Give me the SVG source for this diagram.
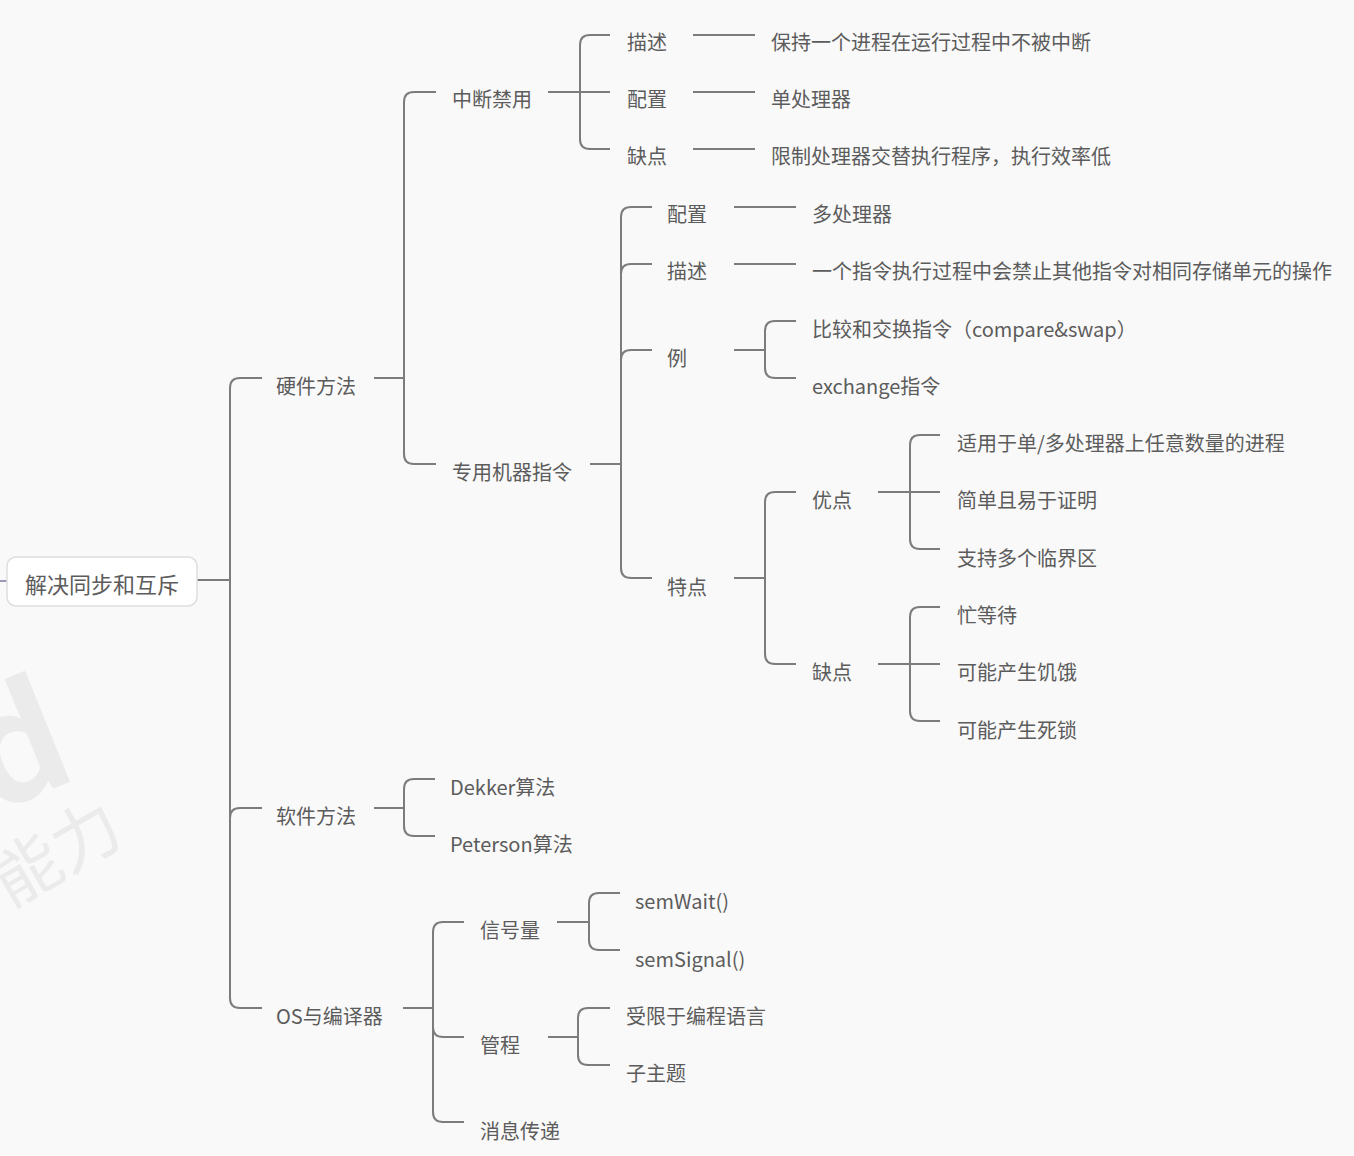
<svg xmlns="http://www.w3.org/2000/svg" width="1354" height="1156" viewBox="0 0 1354 1156">
<style>
.bg{fill:#f9f9f9}
.t{font-family:"Noto Sans CJK SC","Noto Sans",sans-serif;font-size:20px;fill:#5c5c5c;dominant-baseline:central}
.root{font-size:22px;text-anchor:middle}
.c path{fill:none;stroke:#7c7c7c;stroke-width:2}
.wm{font-family:"Noto Sans CJK SC","Noto Sans",sans-serif;fill:#ebebeb}
</style>
<rect class="bg" x="0" y="0" width="1354" height="1156"/>
<g id="watermark">
<text class="wm" x="-26" y="795" font-size="150" font-weight="bold" transform="rotate(-22 30 760)">d</text>
<text class="wm" x="-14" y="880" font-size="68" transform="rotate(-30 50 850)">能力</text>
</g>
<g class="c" id="connectors">
<path d="M0 581 L7 581" style="stroke:#9a9ab8"/>
<path d="M197 580 L230 580"/>
<path d="M230 580 L230 388 Q230 378 240 378 L262 378"/>
<path d="M230 580 L230 818 Q230 808 240 808 L262 808"/>
<path d="M230 580 L230 998 Q230 1008 240 1008 L262 1008"/>
<path d="M374 378 L404 378"/>
<path d="M404 378 L404 102 Q404 92 414 92 L436 92"/>
<path d="M404 378 L404 454 Q404 464 414 464 L436 464"/>
<path d="M548 92 L580 92"/>
<path d="M580 92 L580 45 Q580 35 590 35 L610 35"/>
<path d="M580 92 L610 92"/>
<path d="M580 92 L580 139 Q580 149 590 149 L610 149"/>
<path d="M693 35 L755 35"/>
<path d="M693 92 L755 92"/>
<path d="M693 149 L755 149"/>
<path d="M590 464 L621 464"/>
<path d="M621 464 L621 217 Q621 207 631 207 L652 207"/>
<path d="M621 274 Q621 264 631 264 L652 264"/>
<path d="M621 360 Q621 350 631 350 L652 350"/>
<path d="M621 464 L621 568 Q621 578 631 578 L652 578"/>
<path d="M734 207 L796 207"/>
<path d="M734 264 L796 264"/>
<path d="M734 350 L765 350"/>
<path d="M765 350 L765 331 Q765 321 775 321 L796 321"/>
<path d="M765 350 L765 368 Q765 378 775 378 L796 378"/>
<path d="M734 578 L765 578"/>
<path d="M765 578 L765 502 Q765 492 775 492 L796 492"/>
<path d="M765 578 L765 654 Q765 664 775 664 L796 664"/>
<path d="M878 492 L940 492"/>
<path d="M910 492 L910 445 Q910 435 920 435 L940 435"/>
<path d="M910 492 L910 539 Q910 549 920 549 L940 549"/>
<path d="M878 664 L940 664"/>
<path d="M910 664 L910 617 Q910 607 920 607 L940 607"/>
<path d="M910 664 L910 711 Q910 721 920 721 L940 721"/>
<path d="M374 808 L404 808"/>
<path d="M404 808 L404 789 Q404 779 414 779 L435 779"/>
<path d="M404 808 L404 826 Q404 836 414 836 L435 836"/>
<path d="M403 1008 L433 1008"/>
<path d="M433 1008 L433 932 Q433 922 443 922 L464 922"/>
<path d="M433 1027 Q433 1037 443 1037 L464 1037"/>
<path d="M433 1008 L433 1112 Q433 1122 443 1122 L464 1122"/>
<path d="M557 922 L589 922"/>
<path d="M589 922 L589 903 Q589 893 599 893 L620 893"/>
<path d="M589 922 L589 940 Q589 950 599 950 L620 950"/>
<path d="M548 1037 L578 1037"/>
<path d="M578 1037 L578 1018 Q578 1008 588 1008 L610 1008"/>
<path d="M578 1037 L578 1055 Q578 1065 588 1065 L610 1065"/>
</g>
<g id="n-root"><rect x="7" y="557" width="190" height="49" rx="9" fill="#ffffff" stroke="#dedede" stroke-width="1.5"/><text class="t root" x="102" y="583">解决同步和互斥</text></g>
<g id="n-hw"><text class="t" x="276" y="385">硬件方法</text></g>
<g id="n-sw"><text class="t" x="276" y="815">软件方法</text></g>
<g id="n-os"><text class="t" x="276" y="1015">OS与编译器</text></g>
<g id="n-int"><text class="t" x="452" y="98">中断禁用</text></g>
<g id="n-int-desc"><text class="t" x="627" y="41">描述</text></g>
<g id="n-int-cfg"><text class="t" x="627" y="98">配置</text></g>
<g id="n-int-con"><text class="t" x="627" y="155">缺点</text></g>
<g id="n-int-desc-v"><text class="t" x="771" y="41">保持一个进程在运行过程中不被中断</text></g>
<g id="n-int-cfg-v"><text class="t" x="771" y="98">单处理器</text></g>
<g id="n-int-con-v"><text class="t" x="771" y="155">限制处理器交替执行程序，执行效率低</text></g>
<g id="n-mi"><text class="t" x="452" y="471">专用机器指令</text></g>
<g id="n-mi-cfg"><text class="t" x="667" y="213">配置</text></g>
<g id="n-mi-desc"><text class="t" x="667" y="270">描述</text></g>
<g id="n-mi-ex"><text class="t" x="667" y="357">例</text></g>
<g id="n-mi-feat"><text class="t" x="667" y="586">特点</text></g>
<g id="n-mi-cfg-v"><text class="t" x="812" y="213">多处理器</text></g>
<g id="n-mi-desc-v"><text class="t" x="812" y="270">一个指令执行过程中会禁止其他指令对相同存储单元的操作</text></g>
<g id="n-ex1"><text class="t" x="812" y="328">比较和交换指令（compare&amp;swap）</text></g>
<g id="n-ex2"><text class="t" x="812" y="385">exchange指令</text></g>
<g id="n-pro"><text class="t" x="812" y="499">优点</text></g>
<g id="n-con"><text class="t" x="812" y="671">缺点</text></g>
<g id="n-pro1"><text class="t" x="957" y="442">适用于单/多处理器上任意数量的进程</text></g>
<g id="n-pro2"><text class="t" x="957" y="499">简单且易于证明</text></g>
<g id="n-pro3"><text class="t" x="957" y="557">支持多个临界区</text></g>
<g id="n-con1"><text class="t" x="957" y="614">忙等待</text></g>
<g id="n-con2"><text class="t" x="957" y="671">可能产生饥饿</text></g>
<g id="n-con3"><text class="t" x="957" y="729">可能产生死锁</text></g>
<g id="n-dekker"><text class="t" x="450" y="786">Dekker算法</text></g>
<g id="n-peterson"><text class="t" x="450" y="843">Peterson算法</text></g>
<g id="n-sem"><text class="t" x="480" y="929">信号量</text></g>
<g id="n-mon"><text class="t" x="480" y="1044">管程</text></g>
<g id="n-msg"><text class="t" x="480" y="1130">消息传递</text></g>
<g id="n-semwait"><text class="t" x="635" y="900">semWait()</text></g>
<g id="n-semsig"><text class="t" x="635" y="958">semSignal()</text></g>
<g id="n-lim"><text class="t" x="626" y="1015">受限于编程语言</text></g>
<g id="n-sub"><text class="t" x="626" y="1072">子主题</text></g>
</svg>
